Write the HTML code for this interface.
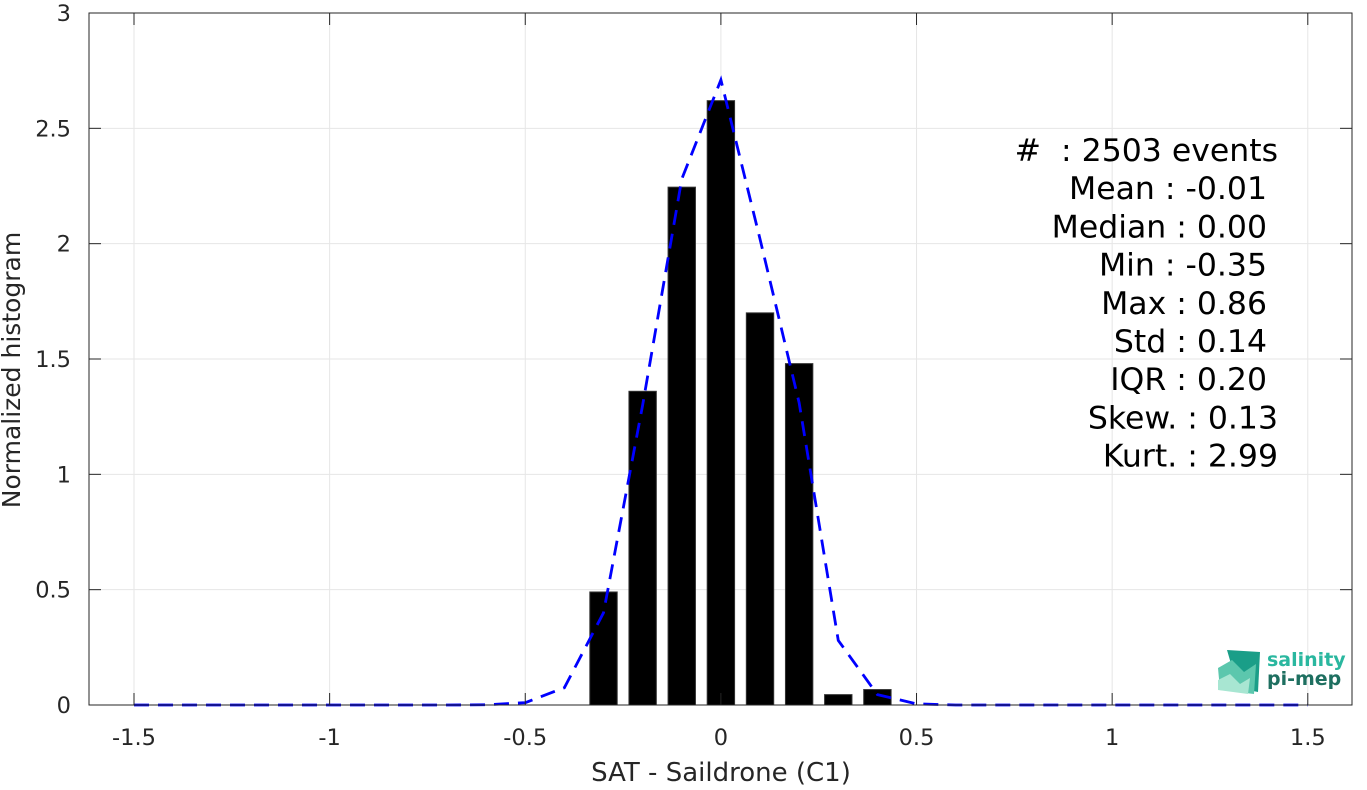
<!DOCTYPE html>
<html><head><meta charset="utf-8"><style>
body{margin:0;background:#fff;}
svg text{font-family:"DejaVu Sans","Liberation Sans",sans-serif;white-space:pre;}
</style></head><body>
<svg id="c" width="1367" height="785"></svg>
<script>
const binCenters=[-0.3,-0.2,-0.1,0,0.1,0.2,0.3,0.4];
const binValues=[0.49,1.36,2.245,2.62,1.70,1.48,0.045,0.067];
const curveX=[-1.5,-1.4,-1.3,-1.2,-1.1,-1,-0.9,-0.8,-0.7,-0.6,-0.5,-0.4,-0.3,-0.2,-0.1,0,0.1,0.2,0.3,0.4,0.5,0.6,0.7,0.8,0.9,1,1.1,1.2,1.3,1.4,1.5];
const curveY=[0,0,0,0,0,0,0,0,0,0.001,0.01,0.075,0.40,1.3,2.28,2.71,2.02,1.31,0.28,0.045,0.005,0,0,0,0,0,0,0,0,0,0];
const xTicks=[-1.5,-1,-0.5,0,0.5,1,1.5];
const xTickLabels=['-1.5','-1','-0.5','0','0.5','1','1.5'];
const yTicks=[0,0.5,1,1.5,2,2.5,3];
const yTickLabels=['0','0.5','1','1.5','2','2.5','3'];
const statLines=['#\u00a0\u00a0: 2503 events','Mean : -0.01','Median : 0.00','Min : -0.35','Max : 0.86','Std : 0.14','IQR : 0.20','Skew. : 0.13','Kurt. : 2.99'];
const statRight=[1278,1267,1267,1267,1267,1267,1267,1278,1278];

const L=89,R=1352,T=13,B=705,x0=-1.615,x1=1.613;
const sx=v=>L+(v-x0)/(x1-x0)*(R-L);
const sy=v=>B-v/3*(B-T);
const svg=document.getElementById('c');
const NS='http://www.w3.org/2000/svg';
function mk(t,a,p){const e=document.createElementNS(NS,t);for(const k in a)e.setAttribute(k,a[k]);(p||svg).appendChild(e);return e;}
xTicks.forEach(v=>{const g=mk('line',{x1:sx(v),x2:sx(v),y1:T,y2:B,stroke:'#e6e6e6'});

});
yTicks.forEach(v=>{const g=mk('line',{x1:L,x2:R,y1:sy(v),y2:sy(v),stroke:'#e6e6e6'});

});
const bw=(sx(0.07)-sx(0));
binCenters.forEach((c,i)=>{const r=mk('rect',{x:sx(c)-bw/2,y:sy(binValues[i]),width:bw,height:B-sy(binValues[i]),fill:'#000',stroke:'#333','stroke-width':1});

});
const pts=curveX.map((x,i)=>sx(x)+','+sy(curveY[i])).join(' ');
const pl=mk('polyline',{points:pts,fill:'none',stroke:'#0000ff','stroke-width':2.8,'stroke-dasharray':'15,9'});


const bx=mk('rect',{x:L,y:T,width:R-L,height:B-T,fill:'none',stroke:'#262626','stroke-width':1});


xTicks.forEach((v,i)=>{
mk('line',{x1:sx(v),x2:sx(v),y1:B,y2:B-12,stroke:'#262626'});
mk('line',{x1:sx(v),x2:sx(v),y1:T,y2:T+12,stroke:'#262626'});
const t=mk('text',{x:sx(v),y:B+40,'text-anchor':'middle','font-size':22.5,fill:'#262626'});t.textContent=xTickLabels[i];

});
yTicks.forEach((v,i)=>{
mk('line',{x1:L,x2:L+12,y1:sy(v),y2:sy(v),stroke:'#262626'});
mk('line',{x1:R,x2:R-12,y1:sy(v),y2:sy(v),stroke:'#262626'});
const t=mk('text',{x:L-18,y:sy(v)+8,'text-anchor':'end','font-size':22.5,fill:'#262626'});t.textContent=yTickLabels[i];

});
const xt=mk('text',{x:721,y:781,'text-anchor':'middle','font-size':26,fill:'#262626'});xt.textContent='SAT - Saildrone (C1)';


const yt=mk('text',{x:0,y:0,'text-anchor':'middle','font-size':25,fill:'#262626',transform:'translate(20,370) rotate(-90)'});yt.textContent='Normalized histogram';


statLines.forEach((s,i)=>{const t=mk('text',{x:statRight[i],y:161+i*38.2,'text-anchor':'end','font-size':31.5,fill:'#000'});t.textContent=s;

});
const g=mk('g',{});


mk('path',{d:'M1227 650 L1260 652 L1258 692 L1238 688 Z',fill:'#1a9e88'},g);
mk('path',{d:'M1218 668 L1232 660 L1244 672 L1256 664 L1254 694 L1220 690 Z',fill:'#5cc7ad'},g);
mk('path',{d:'M1218 680 L1230 674 L1240 684 L1250 678 L1248 694 L1218 690 Z',fill:'#a8e6d2'},g);
const t1=mk('text',{x:1267,y:666,'font-size':19,'font-weight':'bold',fill:'#2ab79f'},g);t1.textContent='salinity';
const t2=mk('text',{x:1267,y:685,'font-size':19,'font-weight':'bold',fill:'#1e6f60'},g);t2.textContent='pi-mep';
</script>
</body></html>
